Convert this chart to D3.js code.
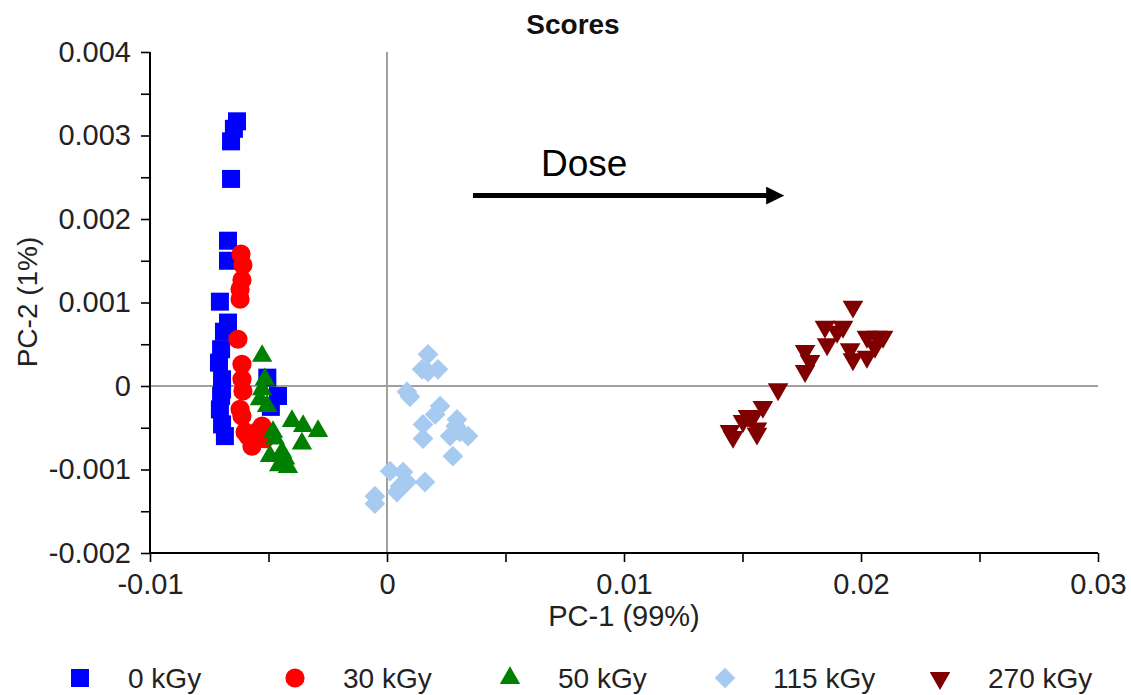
<!DOCTYPE html>
<html>
<head>
<meta charset="utf-8">
<script src="https://cdn.jsdelivr.net/npm/d3@7"></script>
<style>
  body { margin: 0; background: #fff; }
  svg text { font-family: "Liberation Sans", Arial, sans-serif; }
</style>
</head>
<body>
<div id="chart"></div>
<script>
// Scores plot, PC-1 vs PC-2, one group per dose

var seriesNames = ["0 kGy", "30 kGy", "50 kGy", "115 kGy", "270 kGy"];
var seriesColors = ["#0000ff", "#ff0000", "#008000", "#a6caf0", "#800000"];

// [PC-1, PC-2]
var dose0 = [[-0.00633,0.00317],[-0.00646,0.00308],[-0.00658,0.00293],[-0.00658,0.00248],[-0.00671,0.00174],
	[-0.00671,0.0015],[-0.00705,0.00101],[-0.00671,0.00076],[-0.00688,0.00065],[-0.007,0.00044],
	[-0.00709,0.00028],[-0.00696,0.00008],[-0.00696,-0.00004],[-0.007,-0.00012],[-0.00705,-0.00028],
	[-0.00696,-0.00046],[-0.00684,-0.0006],[-0.00505,0.0001],[-0.0046,-0.00012],[-0.0049,-0.00025]];
var dose30 = [[-0.00616,0.00158],[-0.00608,0.00145],[-0.00612,0.00127],[-0.0062,0.00116],[-0.0062,0.00104],
	[-0.00629,0.00056],[-0.00612,0.00026],[-0.00612,0.00008],[-0.00608,-0.00006],[-0.0062,-0.00028],
	[-0.00612,-0.00036],[-0.00599,-0.00055],[-0.00527,-0.00048],[-0.00515,-0.00063],[-0.0057,-0.00072],
	[-0.00553,-0.00063],[-0.00586,-0.0006],[-0.00544,-0.00054]];
var dose50 = [[-0.00527,0.00036],[-0.00515,0.00008],[-0.00527,-0.00004],[-0.00536,-0.00016],[-0.00506,-0.00024],
	[-0.00401,-0.00042],[-0.00354,-0.00048],[-0.00291,-0.00054],[-0.00359,-0.00069],[-0.00473,-0.00063],
	[-0.00494,-0.00084],[-0.0043,-0.00087],[-0.00418,-0.00097],[-0.00443,-0.00079],[-0.00481,-0.00055],
	[-0.00455,-0.00095]];
var dose115 = [[0.00173,0.00038],[0.00148,0.0002],[0.00173,0.00017],[0.00215,0.0002],[0.00084,-0.00007],
	[0.00097,-0.00013],[0.00224,-0.00024],[0.00203,-0.00034],[0.00152,-0.00046],[0.00152,-0.00063],
	[0.00295,-0.0004],[0.00308,-0.00055],[0.00266,-0.0006],[0.00342,-0.0006],[0.00278,-0.00084],
	[0.00013,-0.00102],[0.00068,-0.00103],[0.00084,-0.00115],[0.00042,-0.00127],[0.0016,-0.00115],
	[-0.00051,-0.00132],[-0.00051,-0.00141],[0.00055,-0.0012],[0.0029,-0.00048]];
var dose270 = [[0.01966,0.00095],[0.01848,0.00071],[0.01924,0.00071],[0.01899,0.00065],[0.01857,0.0005],
	[0.01764,0.00042],[0.01785,0.0003],[0.01764,0.00018],[0.01954,0.00044],[0.02025,0.00059],
	[0.02068,0.00059],[0.01966,0.00032],[0.02025,0.00035],[0.02059,0.00047],[0.02093,0.00059],
	[0.0165,-0.00004],[0.01586,-0.00025],[0.01544,-0.00037],[0.01502,-0.00042],[0.01447,-0.00054],
	[0.0146,-0.00061],[0.01561,-0.00051],[0.01561,-0.00057],[0.01523,-0.00036]];

var xTicks = [-0.01, 0, 0.01, 0.02, 0.03];
var xTickLabels = ["-0.01", "0", "0.01", "0.02", "0.03"];
var yTicks = [-0.002, -0.001, 0, 0.001, 0.002, 0.003, 0.004];
var yTickLabels = ["-0.002", "-0.001", "0", "0.001", "0.002", "0.003", "0.004"];

// arrow annotation: start/end in data units, label anchor
var doseArrow = [[0.00363, 0.00228], [0.01679, 0.00228]];
var doseLabel = [0.0065, 0.00251];

var allSeries = [dose0, dose30, dose50, dose115, dose270];

var width = 1131, height = 695;
var margin = { top: 52, right: 33, bottom: 142, left: 150 };

var svg = d3.select("#chart").append("svg")
	.attr("width", width)
	.attr("height", height);

var x = d3.scaleLinear().domain([-0.01, 0.03]).range([margin.left, width - margin.right]);
var y = d3.scaleLinear().domain([-0.002, 0.004]).range([height - margin.bottom, margin.top]);

// symbols per series
var sym = [
	{ type: d3.symbolSquare, size: 324, rot: 0 },
	{ type: d3.symbolCircle, size: 290, rot: 0 },
	{ type: d3.symbolTriangle, size: 180, rot: 0 },
	{ type: d3.symbolSquare, size: 215, rot: 45 },
	{ type: d3.symbolTriangle, size: 185, rot: 180 }
];

// title
svg.append("text")
	.attr("x", 573).attr("y", 34)
	.attr("text-anchor", "middle")
	.attr("font-size", "28px")
	.attr("font-weight", "bold")
	.attr("fill", "#111")
	.text("Scores");

// zero lines
svg.append("line")
	.attr("x1", x(0)).attr("x2", x(0))
	.attr("y1", y(0.004)).attr("y2", y(-0.002))
	.attr("stroke", "#a0a0a0").attr("stroke-width", 2);
svg.append("line")
	.attr("x1", x(-0.01)).attr("x2", x(0.03))
	.attr("y1", y(0)).attr("y2", y(0))
	.attr("stroke", "#a0a0a0").attr("stroke-width", 2);

// axes
var xAxis = d3.axisBottom(x)
	.tickValues(d3.range(-0.01, 0.0301, 0.005))
	.tickSize(9).tickPadding(11)
	.tickFormat(function(d) {
		var i = xTicks.findIndex(function(t) { return Math.abs(t - d) < 1e-9 });
		return i >= 0 ? xTickLabels[i] : "";
	});
var yAxis = d3.axisLeft(y)
	.tickValues(d3.range(-0.002, 0.00401, 0.0005))
	.tickSize(9).tickPadding(10)
	.tickFormat(function(d) {
		var i = yTicks.findIndex(function(t) { return Math.abs(t - d) < 1e-9 });
		return i >= 0 ? yTickLabels[i] : "";
	});

var gx = svg.append("g")
	.attr("transform", "translate(0," + y(-0.002) + ")")
	.call(xAxis);
var gy = svg.append("g")
	.attr("transform", "translate(" + x(-0.01) + ",0)")
	.call(yAxis);

[gx, gy].forEach(function(g) {
	g.select(".domain").attr("stroke", "#000").attr("stroke-width", 2);
	g.selectAll(".tick line").attr("stroke", "#000").attr("stroke-width", 1.6);
	g.selectAll(".tick text")
		.attr("font-size", "29px")
		.attr("font-family", "'Liberation Sans', Arial, sans-serif")
		.attr("fill", "#222");
});
gx.select(".domain").attr("d", "M" + x(-0.01) + ",0H" + x(0.03));
gy.select(".domain").attr("d", "M0," + y(0.004) + "V" + y(-0.002));

// axis titles
svg.append("text")
	.attr("x", x(0.01)).attr("y", 626)
	.attr("text-anchor", "middle")
	.attr("font-size", "29px")
	.attr("fill", "#222")
	.text("PC-1 (99%)");
svg.append("text")
	.attr("transform", "translate(37," + 302 + ") rotate(-90)")
	.attr("text-anchor", "middle")
	.attr("font-size", "28px")
	.attr("fill", "#222")
	.text("PC-2 (1%)");

// points
allSeries.forEach(function(pts, s) {
	var shape = d3.symbol().type(sym[s].type).size(sym[s].size);
	svg.append("g").selectAll("path")
		.data(pts).enter()
		.append("path")
		.attr("d", shape)
		.attr("transform", function(d) {
			return "translate(" + x(d[0]) + "," + y(d[1]) + ") rotate(" + sym[s].rot + ")";
		})
		.attr("fill", seriesColors[s]);
});

// dose arrow
var defs = svg.append("defs");
defs.append("marker")
	.attr("id", "arrowhead")
	.attr("viewBox", "0 0 10 10")
	.attr("refX", 1).attr("refY", 5)
	.attr("markerWidth", 3.6).attr("markerHeight", 3.6)
	.attr("markerUnits", "strokeWidth")
	.attr("orient", "auto")
	.append("path")
	.attr("d", "M0,0L10,5L0,10Z")
	.attr("fill", "#000");

svg.append("line")
	.attr("x1", x(doseArrow[0][0])).attr("y1", y(doseArrow[0][1]))
	.attr("x2", x(doseArrow[1][0]) - 17).attr("y2", y(doseArrow[1][1]))
	.attr("stroke", "#000").attr("stroke-width", 5)
	.attr("marker-end", "url(#arrowhead)");

svg.append("text")
	.attr("x", x(doseLabel[0])).attr("y", y(doseLabel[1]))
	.attr("font-family", "'Noto Sans', 'Open Sans', sans-serif")
	.attr("font-size", "37px")
	.attr("fill", "#000")
	.text("Dose");

// legend
var legend = svg.append("g").selectAll("g")
	.data(seriesNames).enter()
	.append("g")
	.attr("transform", function(d, i) { return "translate(" + (80 + i * 215) + ",678)" });

legend.append("path")
	.attr("d", function(d, i) { return d3.symbol().type(sym[i].type).size(sym[i].size)() })
	.attr("transform", function(d, i) { return "rotate(" + sym[i].rot + ")" })
	.attr("fill", function(d, i) { return seriesColors[i] });

legend.append("text")
	.attr("x", 48).attr("dy", "0.34em")
	.attr("font-size", "28px")
	.attr("fill", "#222")
	.text(function(d) { return d });
</script>
</body>
</html>
